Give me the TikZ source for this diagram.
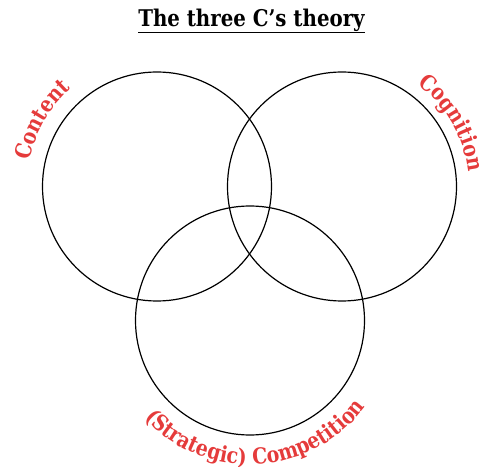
\documentclass[tikz,border=0pt]{standalone}
\usepackage{fontspec}
\setmainfont{DejaVu Serif}[FakeStretch=0.86]
\usetikzlibrary{decorations.text}
\definecolor{rot}{HTML}{E53B3B}
\tikzset{
  kreis/.style={black,line width=1.2pt},
  beschr/.style={decorate,decoration={text along path,text align=center,
    text={|\bfseries\fontsize{22}{22}\selectfont\color{rot}|#1}}}
}

\begin{document}
\begin{tikzpicture}[x=1pt,y=1pt]
  \useasboundingbox (0,0) rectangle (484,466);
  \coordinate (m1) at (157,279.5);
  \coordinate (m2) at (342,279.5);
  \coordinate (m3) at (250,145.5);
  \draw[kreis] (m1) circle[radius=114.5];
  \draw[kreis] (m2) circle[radius=114.5];
  \draw[kreis] (m3) circle[radius=114.5];
  \node[font=\bfseries\fontsize{23}{27}\selectfont,inner sep=0pt,anchor=base] (titel) at (251.5,439) {The three C’s theory};
  \draw[line width=1.8pt] ([yshift=-5.5pt]titel.base west) -- ([yshift=-5.5pt]titel.base east);
  \path[beschr=Content] (m1) ++(180:130) arc[start angle=180,end angle=120,radius=130];
  \path[beschr=Cognition] (m2) ++(60:127) arc[start angle=60,end angle=0,radius=127];
  \path[beschr={(Strategic) Competition}] (m3) ++(213:144) arc[start angle=213,end angle=333,radius=144];
\end{tikzpicture}
\end{document}
